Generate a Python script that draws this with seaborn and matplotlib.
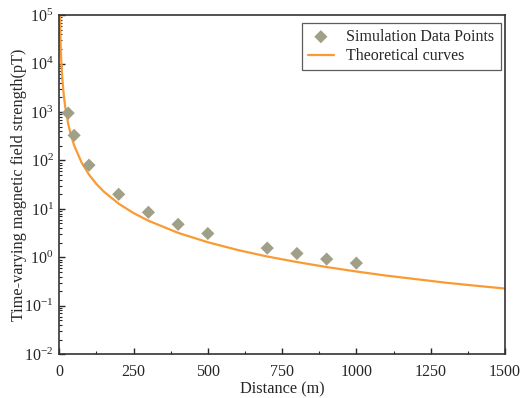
import numpy as np
import pandas as pd
import seaborn as sns
import matplotlib
matplotlib.use('Agg')
import matplotlib.pyplot as plt
from matplotlib.ticker import LogLocator, AutoMinorLocator, NullFormatter

# Puntos simulados
dist_sim = [30, 50, 100, 200, 300, 400, 500, 700, 800, 900, 1000]
field_sim = [950, 330, 80, 20, 8.5, 4.8, 3.1, 1.55, 1.2, 0.92, 0.76]

# Curva teórica
dist_theory = [2.3, 3, 4, 5, 7, 10, 15, 20, 30, 40, 50, 75, 100, 125, 150, 200, 250,
               300, 400, 500, 600, 700, 800, 900, 1000, 1100, 1200, 1300, 1400, 1500]
field_theory = [96000, 57000, 32000, 20000, 10400, 5100, 2270, 1280, 570, 320, 205, 91,
                51, 32.6, 22.7, 12.8, 8.2, 5.7, 3.2, 2.05, 1.42, 1.04, 0.80, 0.63, 0.51,
                0.42, 0.355, 0.30, 0.26, 0.227]

df_sim = pd.DataFrame({'dist': dist_sim, 'field': field_sim})
df_th = pd.DataFrame({'dist': dist_theory, 'field': field_theory})

sns.set_style('ticks')
plt.rcParams['font.family'] = ['Liberation Serif', 'DejaVu Serif']
plt.rcParams['mathtext.fontset'] = 'stix'
plt.rcParams['font.size'] = 11.5

fig, ax = plt.subplots(figsize=(5.2, 3.98), dpi=100)
fig.subplots_adjust(left=0.114, right=0.971, top=0.962, bottom=0.11)

sns.lineplot(x='dist', y='field', data=df_th, color='#fa9a33', linewidth=1.6,
             label='Theoretical curves', ax=ax, zorder=2)
sns.scatterplot(x='dist', y='field', data=df_sim, color='#a0a088', marker='D', s=45,
                edgecolor='none', label='Simulation Data Points', ax=ax, zorder=3)

ax.set_yscale('log')
ax.set_xlim(0, 1500)
ax.set_ylim(1e-2, 1e5)
ax.set_xticks([0, 250, 500, 750, 1000, 1250, 1500])
ax.xaxis.set_minor_locator(AutoMinorLocator(2))
ax.yaxis.set_major_locator(LogLocator(base=10, numticks=10))
ax.yaxis.set_minor_locator(LogLocator(base=10, subs=np.arange(2, 10), numticks=20))
ax.yaxis.set_minor_formatter(NullFormatter())
ax.tick_params(which='major', direction='in', length=4.5, width=1, labelsize=11.5,
               top=False, right=False)
ax.tick_params(axis='x', which='major', pad=7)
ax.tick_params(axis='y', which='major', pad=4)
ax.tick_params(which='minor', direction='in', length=2.5, width=0.8,
               top=False, right=False)
for s in ax.spines.values():
    s.set_linewidth(1.2)
    s.set_color('#333333')

ax.set_xlabel('Distance (m)', fontsize=11.7, labelpad=1)
ax.set_ylabel('Time-varying magnetic field strength(pT)', fontsize=11.7)
ax.yaxis.set_label_coords(-0.072, 0.5)

handles, labels = ax.get_legend_handles_labels()
leg = ax.legend(handles[::-1], labels[::-1], loc='upper right', bbox_to_anchor=(1, 0.99),
                fontsize=11.5, frameon=True, fancybox=False, edgecolor='#333333',
                borderaxespad=0.25, handlelength=1.6, labelspacing=0.2)
leg.get_frame().set_linewidth(0.9)

plt.savefig('out.png', dpi=100)
